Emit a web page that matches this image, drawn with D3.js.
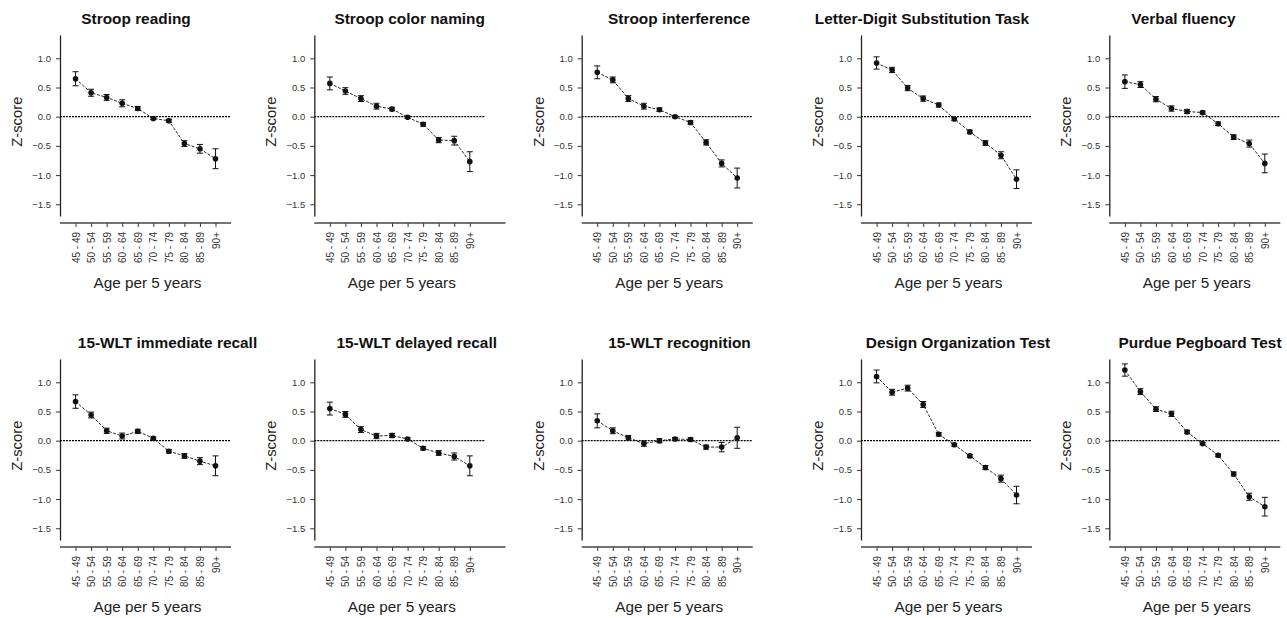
<!DOCTYPE html>
<html lang="en">
  <head>
    <meta charset="utf-8">
    <script src="https://d3js.org/d3.v7.min.js"></script>
    <title>Z-scores per age group</title>
    <style>
      body { margin: 0; background: #fff; font-family: "Liberation Sans", Arial, Helvetica, sans-serif; }
    </style>
  </head>
  <body>
  <script type="text/javascript">

    // age groups on the x axis
    var ageGroups = ["45 - 49", "50 - 54", "55 - 59", "60 - 64", "65 - 69", "70 - 74", "75 - 79", "80 - 84", "85 - 89", "90+"];

    var titles = ["Stroop reading", "Stroop color naming", "Stroop interference", "Letter-Digit Substitution Task", "Verbal fluency",
                  "15-WLT immediate recall", "15-WLT delayed recall", "15-WLT recognition", "Design Organization Test", "Purdue Pegboard Test"];

    // mean z-scores and error bar half widths
    var stroopReading      = [0.65, 0.41, 0.33, 0.23, 0.14, -0.03, -0.07, -0.46, -0.55, -0.72];
    var stroopReadingErr   = [0.12, 0.06, 0.05, 0.06, 0.035, 0.02, 0.025, 0.05, 0.075, 0.17];
    var stroopColor        = [0.57, 0.44, 0.31, 0.18, 0.13, -0.01, -0.13, -0.40, -0.41, -0.77];
    var stroopColorErr     = [0.11, 0.057, 0.05, 0.05, 0.03, 0.02, 0.03, 0.045, 0.075, 0.17];
    var stroopInterf       = [0.76, 0.63, 0.31, 0.18, 0.12, 0.0, -0.10, -0.44, -0.80, -1.05];
    var stroopInterfErr    = [0.11, 0.05, 0.05, 0.05, 0.03, 0.02, 0.03, 0.045, 0.06, 0.17];
    var ldst               = [0.92, 0.80, 0.49, 0.31, 0.20, -0.04, -0.26, -0.45, -0.66, -1.07];
    var ldstErr            = [0.105, 0.045, 0.045, 0.045, 0.035, 0.025, 0.03, 0.04, 0.06, 0.16];
    var verbalFluency      = [0.60, 0.55, 0.30, 0.14, 0.09, 0.07, -0.12, -0.35, -0.46, -0.80];
    var verbalFluencyErr   = [0.115, 0.05, 0.045, 0.045, 0.035, 0.025, 0.03, 0.04, 0.06, 0.16];
    var wltImmediate       = [0.67, 0.44, 0.17, 0.08, 0.16, 0.04, -0.18, -0.26, -0.35, -0.43];
    var wltImmediateErr    = [0.115, 0.05, 0.045, 0.05, 0.035, 0.025, 0.03, 0.04, 0.06, 0.17];
    var wltDelayed         = [0.55, 0.45, 0.19, 0.08, 0.09, 0.03, -0.13, -0.21, -0.27, -0.43];
    var wltDelayedErr      = [0.11, 0.05, 0.05, 0.045, 0.035, 0.02, 0.03, 0.04, 0.06, 0.17];
    var wltRecognition     = [0.34, 0.17, 0.05, -0.05, 0.0, 0.03, 0.02, -0.11, -0.11, 0.05];
    var wltRecognitionErr  = [0.12, 0.05, 0.04, 0.045, 0.035, 0.025, 0.03, 0.035, 0.08, 0.18];
    var designOrg          = [1.10, 0.83, 0.90, 0.62, 0.11, -0.07, -0.26, -0.46, -0.65, -0.93];
    var designOrgErr       = [0.11, 0.05, 0.05, 0.05, 0.03, 0.025, 0.025, 0.035, 0.06, 0.15];
    var purdue             = [1.21, 0.84, 0.54, 0.46, 0.15, -0.05, -0.25, -0.57, -0.96, -1.13];
    var purdueErr          = [0.105, 0.05, 0.04, 0.045, 0.03, 0.02, 0.025, 0.035, 0.06, 0.16];

    var means = [stroopReading, stroopColor, stroopInterf, ldst, verbalFluency,
                 wltImmediate, wltDelayed, wltRecognition, designOrg, purdue];
    var errs  = [stroopReadingErr, stroopColorErr, stroopInterfErr, ldstErr, verbalFluencyErr,
                 wltImmediateErr, wltDelayedErr, wltRecognitionErr, designOrgErr, purdueErr];

    var yTicks = [1.0, 0.5, 0.0, -0.5, -1.0, -1.5];

    // layout of the panel grid
    var width = 1287, height = 618;
    var colX = [60, 314.3, 581.7, 861, 1109.3];       // y axis position per column
    var axisEnd = [11, 12.3, 11, 11, 11];              // x axis length in category steps
    var rowZero = [116.7, 440.7];                      // pixel row of z = 0
    var titleX = [[136, 409.7, 679, 922, 1183.5], [167.5, 416.7, 679.5, 958, 1200]];
    var step = 15.55, unit = 58.4;

    var svg = d3.select("body").append("svg")
      .attr("width", width)
      .attr("height", height);

    means.forEach(function(vals, p) {
      var row = Math.floor(p / 5), col = p % 5;
      var x0 = colX[col], z0 = rowZero[row];

      var x = d3.scaleLinear().domain([0, 11]).range([x0, x0 + 11 * step]);
      var y = d3.scaleLinear().domain([-1.7, 1.4]).range([z0 + 1.7 * unit, z0 - 1.4 * unit]);

      var g = svg.append("g");
      var xAxisY = y(-1.7) + 7;

      // title
      g.append("text")
        .attr("x", titleX[row][col])
        .attr("y", z0 - 92.4)
        .attr("text-anchor", "middle")
        .style("font-size", "15.4px")
        .style("font-weight", "bold")
        .style("fill", "#111")
        .text(titles[p]);

      // y axis
      var yAxis = g.append("g")
        .attr("transform", "translate(" + x0 + ",0)")
        .call(d3.axisLeft(y).tickValues(yTicks).tickFormat(d3.format(".1f"))
              .tickSize(4).tickSizeOuter(0).tickPadding(5));
      yAxis.select(".domain").attr("stroke", "#222").attr("stroke-width", 1.3);
      yAxis.selectAll(".tick line").attr("stroke", "#333");
      yAxis.selectAll("text")
        .style("font-family", "'Liberation Sans', Arial, sans-serif")
        .style("font-size", "9.5px")
        .style("fill", "#333");

      // x axis, offset below the plot
      var xAxis = g.append("g")
        .attr("transform", "translate(0," + xAxisY + ")")
        .call(d3.axisBottom(x).tickValues(d3.range(1, 11))
              .tickFormat(function(i) { return ageGroups[i - 1]; })
              .tickSize(4).tickSizeOuter(0));
      xAxis.select(".domain").remove();
      xAxis.append("line")
        .attr("x1", x(0)).attr("x2", x(axisEnd[col]))
        .attr("stroke", "#444").attr("stroke-width", 1.3);
      xAxis.selectAll(".tick line").attr("stroke", "#333");
      xAxis.selectAll("text")
        .attr("transform", "rotate(-90)")
        .attr("text-anchor", "end")
        .attr("x", -9)
        .attr("y", 0)
        .attr("dy", "0.35em")
        .style("font-family", "'Liberation Sans', Arial, sans-serif")
        .style("font-size", "10px")
        .style("fill", "#333");

      // axis titles
      g.append("text")
        .attr("transform", "rotate(-90)")
        .attr("x", -(z0 + 5))
        .attr("y", x0 - 43)
        .attr("dy", "0.35em")
        .attr("text-anchor", "middle")
        .style("font-size", "14.8px")
        .style("fill", "#222")
        .text("Z-score");

      g.append("text")
        .attr("x", x(5.5) + 2)
        .attr("y", xAxisY + 65.2)
        .attr("text-anchor", "middle")
        .style("font-size", "15.3px")
        .style("fill", "#222")
        .text("Age per 5 years");

      // reference line at z = 0
      g.append("line")
        .attr("x1", x(0)).attr("x2", x(11))
        .attr("y1", y(0)).attr("y2", y(0))
        .attr("stroke", "#000")
        .attr("stroke-width", 1.3)
        .attr("stroke-dasharray", "2,1");

      var pts = vals.map(function(v, i) { return {i: i + 1, v: v, e: errs[p][i]}; });

      // connecting line
      g.append("path")
        .datum(pts)
        .attr("fill", "none")
        .attr("stroke", "#111")
        .attr("stroke-width", 0.9)
        .attr("stroke-dasharray", "3,1.5")
        .attr("d", d3.line().x(function(d) { return x(d.i); }).y(function(d) { return y(d.v); }));

      // error bars
      var bars = g.append("g").selectAll("g")
        .data(pts)
        .enter().append("g")
        .attr("stroke", "#111")
        .attr("stroke-width", 1);
      bars.append("line")
        .attr("x1", function(d) { return x(d.i); })
        .attr("x2", function(d) { return x(d.i); })
        .attr("y1", function(d) { return y(d.v + d.e); })
        .attr("y2", function(d) { return y(d.v - d.e); });
      bars.append("line")
        .attr("x1", function(d) { return x(d.i) - 3; })
        .attr("x2", function(d) { return x(d.i) + 3; })
        .attr("y1", function(d) { return y(d.v + d.e); })
        .attr("y2", function(d) { return y(d.v + d.e); });
      bars.append("line")
        .attr("x1", function(d) { return x(d.i) - 3; })
        .attr("x2", function(d) { return x(d.i) + 3; })
        .attr("y1", function(d) { return y(d.v - d.e); })
        .attr("y2", function(d) { return y(d.v - d.e); });

      // points
      g.append("g").selectAll("circle")
        .data(pts)
        .enter().append("circle")
        .attr("cx", function(d) { return x(d.i); })
        .attr("cy", function(d) { return y(d.v); })
        .attr("r", 2.8)
        .attr("fill", "#111");
    });

  </script>
  </body>
</html>
